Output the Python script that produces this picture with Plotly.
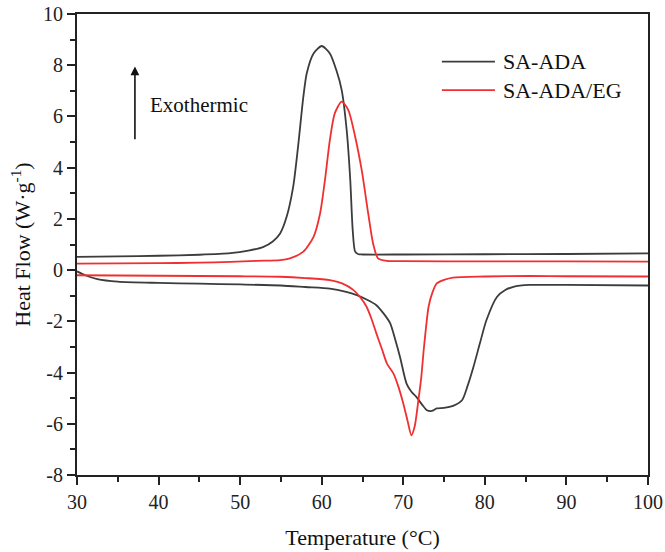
import plotly.graph_objects as go

# SA-ADA: cooling (exothermic, upper) and heating (endothermic, lower)
sa_cool_x = [30, 35, 40, 45, 48.8, 51, 52.8, 54, 54.9, 55.7, 56.5, 57.1, 57.75, 58.16, 59.0, 60.0,
             61.0, 61.8, 62.45, 63.06, 63.5, 63.8, 64.1, 64.5, 65, 70, 80, 90, 100]
sa_cool_y = [0.52, 0.54, 0.56, 0.60, 0.66, 0.76, 0.90, 1.12, 1.43, 2.08, 3.25, 4.82, 6.77, 7.68, 8.46, 8.75,
             8.46, 7.8, 7.03, 5.47, 3.52, 1.56, 0.72, 0.62, 0.61, 0.61, 0.62, 0.63, 0.65]
sa_heat_x = [30, 31, 32.5, 35, 40, 45, 50, 55, 58, 61, 63, 64.3, 65.5, 66.7, 67.6, 68.4, 69.0, 69.6,
             70.4, 71.0, 71.6, 72.3, 72.9, 73.5, 74.1, 75, 76.1, 77.2, 77.9, 78.6, 79.4, 80.2, 81.5,
             82.5, 83.5, 85.5, 90, 100]
sa_heat_y = [-0.05, -0.2, -0.35, -0.45, -0.5, -0.53, -0.56, -0.6, -0.66, -0.72, -0.85, -0.98, -1.15,
             -1.37, -1.7, -2.08, -2.7, -3.39, -4.43, -4.75, -4.95, -5.25, -5.47, -5.5, -5.4, -5.38,
             -5.3, -5.08, -4.5, -3.78, -2.85, -1.95, -1.04, -0.78, -0.65, -0.58, -0.58, -0.6]

# SA-ADA/EG
eg_cool_x = [30, 40, 45, 48.8, 52, 54.9, 56.1, 57.75, 59.0, 59.8, 60.4, 61.0, 61.6, 62.45, 63.26,
             64.1, 64.9, 65.7, 66.3, 66.9, 68, 70, 80, 90, 100]
eg_cool_y = [0.25, 0.27, 0.29, 0.32, 0.36, 0.39, 0.46, 0.72, 1.3, 2.21, 3.52, 5.08, 6.12, 6.58, 6.25,
             5.21, 3.91, 2.21, 1.04, 0.46, 0.36, 0.35, 0.34, 0.34, 0.33]
eg_heat_x = [30, 40, 50, 54.9, 58, 61, 62.5, 63.9, 64.7, 65.5, 66.1, 66.7, 67.4, 68, 68.8, 69.4, 70.0,
             70.5, 71.0, 71.4, 71.8, 72.2, 72.5, 72.8, 73.1, 73.6, 74.1, 75, 76.1, 80, 85.5, 90, 100]
eg_heat_y = [-0.2, -0.22, -0.24, -0.26, -0.31, -0.39, -0.52, -0.78, -1.05, -1.43, -1.9, -2.47, -3.1,
             -3.65, -4.04, -4.55, -5.21, -5.85, -6.45, -6.1, -5.21, -4.2, -3.13, -2.2, -1.43, -0.85,
             -0.52, -0.38, -0.29, -0.25, -0.23, -0.24, -0.25]

series_names = ["SA-ADA", "SA-ADA/EG"]
series_colors = ["#3c3c3c", "#f03030"]
x_ticks = [30, 40, 50, 60, 70, 80, 90, 100]
y_ticks = [-8, -6, -4, -2, 0, 2, 4, 6, 8, 10]

FONT = "Liberation Serif, Times New Roman, serif"

fig = go.Figure()
data = [(sa_cool_x, sa_cool_y, sa_heat_x, sa_heat_y), (eg_cool_x, eg_cool_y, eg_heat_x, eg_heat_y)]
for (cx, cy, hx, hy), name, col in zip(data, series_names, series_colors):
    fig.add_trace(go.Scatter(
        x=cx + [None] + hx, y=cy + [None] + hy, mode="lines", name=name,
        line=dict(color=col, width=1.8, shape="spline", smoothing=0.7),
        connectgaps=False, showlegend=False))

# custom legend (decoration)
leg_rows = [0.8965, 0.835]
for name, col, yy in zip(series_names, series_colors, leg_rows):
    fig.add_shape(type="line", xref="paper", yref="paper", x0=0.639, x1=0.732, y0=yy, y1=yy,
                  line=dict(color=col, width=1.8))
    fig.add_annotation(xref="paper", yref="paper", x=0.7426, y=yy, text=name, showarrow=False,
                       xanchor="left", yanchor="middle", font=dict(family=FONT, size=22, color="#111"))

# Exothermic arrow + label
fig.add_annotation(x=37.1, y=7.95, ax=37.1, ay=5.05, xref="x", yref="y", axref="x", ayref="y",
                   text="", showarrow=True, arrowhead=2, arrowsize=1.1, arrowwidth=1.6, arrowcolor="#111")
fig.add_annotation(x=38.7, y=6.45, xref="x", yref="y", text="Exothermic", showarrow=False,
                   xanchor="left", yanchor="middle", font=dict(family=FONT, size=21, color="#111"))

axis_common = dict(showline=True, linecolor="#222", linewidth=2, mirror=True, ticks="outside",
                   ticklen=8, tickwidth=1.8, tickcolor="#222", showgrid=False, zeroline=False,
                   automargin=False,
                   tickfont=dict(family=FONT, size=20, color="#222"))
fig.update_xaxes(range=[30, 100], tickvals=x_ticks, ticktext=[str(v) for v in x_ticks],
                 minor=dict(dtick=5, tick0=30, ticks="outside", ticklen=5, tickwidth=1.5, tickcolor="#222"),
                 title=dict(text="Temperature (\u00b0C)", font=dict(family=FONT, size=22, color="#111"), standoff=18),
                 **axis_common)
fig.update_yaxes(range=[-8, 10], tickvals=y_ticks, ticktext=[str(v) for v in y_ticks],
                 minor=dict(dtick=1, tick0=0, ticks="outside", ticklen=5, tickwidth=1.5, tickcolor="#222"),
                 title=dict(text="Heat Flow (W\u00b7g<sup>-1</sup>)", font=dict(family=FONT, size=22, color="#111"), standoff=6),
                 **axis_common)

fig.update_layout(width=665, height=552, margin=dict(l=77, r=17, t=14, b=77, autoexpand=False),
                  plot_bgcolor="white", paper_bgcolor="white", showlegend=False)

fig.write_html("out.html")
